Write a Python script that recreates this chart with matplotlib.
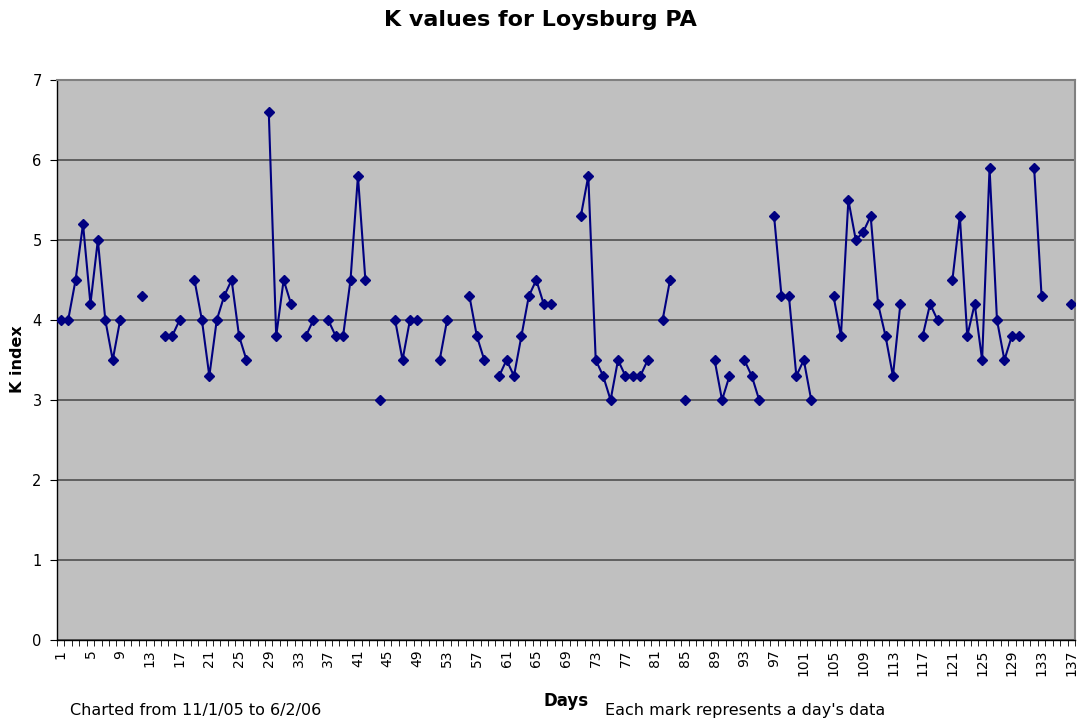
import numpy as np
import matplotlib
matplotlib.use("Agg")
import matplotlib.pyplot as plt

# K index per day, None = no reading that day
days = list(range(1, 138))
k_values = [
    4.0, 4.0, 4.5, 5.2, 4.2, 5.0, 4.0, 3.5, 4.0, None,   # 1-10
    None, 4.3, None, None, 3.8, 3.8, 4.0, None, 4.5, 4.0,  # 11-20
    3.3, 4.0, 4.3, 4.5, 3.8, 3.5, None, None, 6.6, 3.8,   # 21-30
    4.5, 4.2, None, 3.8, 4.0, None, 4.0, 3.8, 3.8, 4.5,   # 31-40
    5.8, 4.5, None, 3.0, None, 4.0, 3.5, 4.0, 4.0, None,  # 41-50
    None, 3.5, 4.0, None, None, 4.3, 3.8, 3.5, None, 3.3, # 51-60
    3.5, 3.3, 3.8, 4.3, 4.5, 4.2, 4.2, None, None, None,  # 61-70
    5.3, 5.8, 3.5, 3.3, 3.0, 3.5, 3.3, 3.3, 3.3, 3.5,     # 71-80
    None, 4.0, 4.5, None, 3.0, None, None, None, 3.5, 3.0, # 81-90
    3.3, None, 3.5, 3.3, 3.0, None, 5.3, 4.3, 4.3, 3.3,   # 91-100
    3.5, 3.0, None, None, 4.3, 3.8, 5.5, 5.0, 5.1, 5.3,   # 101-110
    4.2, 3.8, 3.3, 4.2, None, None, 3.8, 4.2, 4.0, None,  # 111-120
    4.5, 5.3, 3.8, 4.2, 3.5, 5.9, 4.0, 3.5, 3.8, 3.8,     # 121-130
    None, 5.9, 4.3, None, None, None, 4.2,                # 131-137
]
tick_days = list(range(1, 138, 4))
y_ticks = list(range(0, 8))

y = np.array([np.nan if v is None else v for v in k_values], dtype=float)

fig = plt.figure(figsize=(10.79, 7.23), dpi=100)
ax = fig.add_axes([57 / 1079, (723 - 640) / 723, 1018 / 1079, 560 / 723])
ax.set_facecolor("#C0C0C0")

ax.plot(days, y, color="#000080", lw=1.5, marker="D", ms=5.5,
        markerfacecolor="#000080", markeredgecolor="#000080", zorder=3)

ax.set_xlim(0.5, 137.5)
ax.set_ylim(0, 7)

# category axis: small ticks between categories, labels every 4th day
ax.set_xticks(tick_days)
ax.set_xticklabels([str(d) for d in tick_days], rotation=90, fontsize=10)
ax.set_xticks(np.arange(0.5, 138, 1), minor=True)
ax.tick_params(axis="x", which="major", length=0, pad=7)
ax.tick_params(axis="x", which="minor", length=4, direction="out", color="black")

ax.set_yticks(y_ticks)
ax.set_yticklabels([str(t) for t in y_ticks], fontsize=10.5)
ax.tick_params(axis="y", length=5, direction="out", color="black", pad=6)

ax.grid(axis="y", color="#505050", lw=1.2, zorder=1)
ax.set_axisbelow(True)

for side in ("top", "right"):
    ax.spines[side].set_color("#808080")
    ax.spines[side].set_linewidth(1.5)
for side in ("left", "bottom"):
    ax.spines[side].set_color("black")
    ax.spines[side].set_linewidth(1.0)

fig.text(540 / 1079, 1 - 20 / 723, "K values for Loysburg PA", ha="center", va="center",
         fontsize=16, fontweight="bold")
fig.text(18 / 1079, 1 - 359 / 723, "K index", ha="center", va="center", rotation=90,
         fontsize=11.5, fontweight="bold")
fig.text(566 / 1079, 1 - 701 / 723, "Days", ha="center", va="center",
         fontsize=12, fontweight="bold")
fig.text(70 / 1079, 1 - 711 / 723, "Charted from 11/1/05 to 6/2/06", ha="left", va="center",
         fontsize=11.5)
fig.text(605 / 1079, 1 - 711 / 723, "Each mark represents a day's data", ha="left", va="center",
         fontsize=11.5)

fig.savefig("out.png", dpi=100)
